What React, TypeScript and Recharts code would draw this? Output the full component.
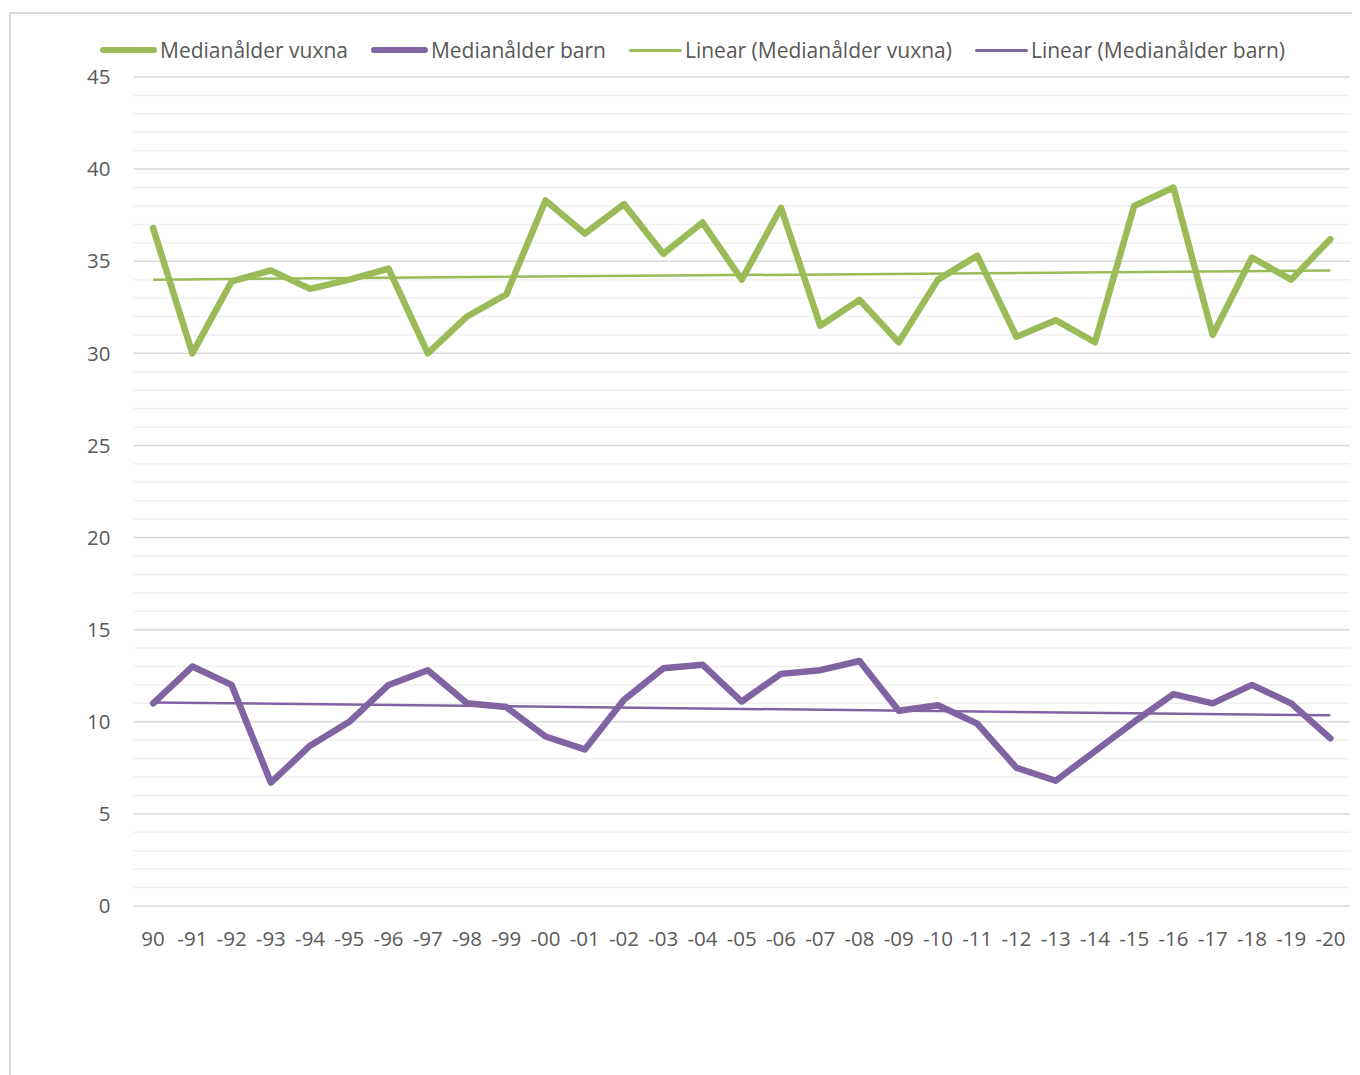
import React from "react";
import { LineChart, Line, XAxis, YAxis, CartesianGrid, ReferenceLine } from "recharts";

const years = [
  "90", "-91", "-92", "-93", "-94", "-95", "-96", "-97", "-98", "-99",
  "-00", "-01", "-02", "-03", "-04", "-05", "-06", "-07", "-08", "-09",
  "-10", "-11", "-12", "-13", "-14", "-15", "-16", "-17", "-18", "-19", "-20",
];

const vuxna = [
  36.8, 30.0, 33.9, 34.5, 33.5, 34.0, 34.6, 30.0, 32.0, 33.2,
  38.3, 36.5, 38.1, 35.4, 37.1, 34.0, 37.9, 31.5, 32.9, 30.6,
  34.0, 35.3, 30.9, 31.8, 30.6, 38.0, 39.0, 31.0, 35.2, 34.0, 36.2,
];

const barn = [
  11.0, 13.0, 12.0, 6.7, 8.7, 10.0, 12.0, 12.8, 11.0, 10.8,
  9.2, 8.5, 11.2, 12.9, 13.1, 11.1, 12.6, 12.8, 13.3, 10.6,
  10.9, 9.9, 7.5, 6.8, 8.4, 10.0, 11.5, 11.0, 12.0, 11.0, 9.1,
];

// trend line end points (first and last year)
const trendVuxna = [34.0, 34.5];
const trendBarn = [11.05, 10.35];

const majorTicks = [0, 5, 10, 15, 20, 25, 30, 35, 40, 45];
const minorTicks = Array.from({ length: 46 }, (_, i) => i).filter((v) => v % 5 !== 0);

const GREEN = "#9BBB59";
const PURPLE = "#8064A2";
const TEXT = "#595959";
const FONT = "'Open Sans', sans-serif";

const last = years.length - 1;
const data = years.map((y, i) => ({
  year: y,
  vuxna: vuxna[i],
  barn: barn[i],
  trendV: i === 0 ? trendVuxna[0] : i === last ? trendVuxna[1] : null,
  trendB: i === 0 ? trendBarn[0] : i === last ? trendBarn[1] : null,
}));

const LEGEND = [
  { label: "Medianålder vuxna", color: GREEN, thick: true, width: 57 },
  { label: "Medianålder barn", color: PURPLE, thick: true, width: 57 },
  { label: "Linear (Medianålder vuxna)", color: GREEN, thick: false, width: 53 },
  { label: "Linear (Medianålder barn)", color: PURPLE, thick: false, width: 53 },
];

export default function App() {
  return (
    <div
      style={{
        position: "relative",
        marginLeft: 1,
        marginTop: 4,
        width: 1360,
        height: 1070,
        border: "2px solid #d9d9d9",
        borderRight: "none",
        borderBottom: "none",
        fontFamily: FONT,
      }}
    >
      <div
        style={{
          position: "absolute",
          left: 89,
          top: 22,
          display: "flex",
          alignItems: "center",
          gap: 23,
          fontSize: 21,
          color: TEXT,
          whiteSpace: "nowrap",
        }}
      >
        {LEGEND.map((item) => (
          <div key={item.label} style={{ display: "flex", alignItems: "center", gap: 3 }}>
            <span
              style={{
                display: "inline-block",
                width: item.width,
                height: item.thick ? 6 : 3,
                borderRadius: 3,
                background: item.color,
              }}
            />
            <span>{item.label}</span>
          </div>
        ))}
      </div>
      <LineChart
        width={1349}
        height={1061}
        data={data}
        margin={{ top: 63, right: 10, bottom: 139, left: 0 }}
      >
        <CartesianGrid horizontal={false} vertical={false} />
        {minorTicks.map((v) => (
          <ReferenceLine key={v} y={v} stroke="#f0f0f0" strokeWidth={1.5} />
        ))}
        {majorTicks.map((v) => (
          <ReferenceLine key={"m" + v} y={v} stroke="#d9d9d9" strokeWidth={1.5} />
        ))}
        <XAxis
          dataKey="year"
          axisLine={false}
          tickLine={false}
          tickSize={0}
          tickMargin={25}
          interval={0}
          height={30}
          padding={{ left: 19.6, right: 19.6 }}
          tick={{ fill: TEXT, fontSize: 20.5, fontFamily: FONT }}
        />
        <YAxis
          domain={[0, 45]}
          ticks={majorTicks}
          axisLine={false}
          tickLine={false}
          tickSize={0}
          tickMargin={23}
          width={122.5}
          tick={{ fill: TEXT, fontSize: 20.5, fontFamily: FONT }}
        />
        <Line
          dataKey="trendV"
          stroke={GREEN}
          strokeWidth={2.5}
          dot={false}
          connectNulls
          isAnimationActive={false}
        />
        <Line
          dataKey="trendB"
          stroke={PURPLE}
          strokeWidth={2.5}
          dot={false}
          connectNulls
          isAnimationActive={false}
        />
        <Line
          dataKey="vuxna"
          stroke={GREEN}
          strokeWidth={6.5}
          strokeLinecap="round"
          strokeLinejoin="round"
          dot={false}
          isAnimationActive={false}
        />
        <Line
          dataKey="barn"
          stroke={PURPLE}
          strokeWidth={6.5}
          strokeLinecap="round"
          strokeLinejoin="round"
          dot={false}
          isAnimationActive={false}
        />
      </LineChart>
    </div>
  );
}
